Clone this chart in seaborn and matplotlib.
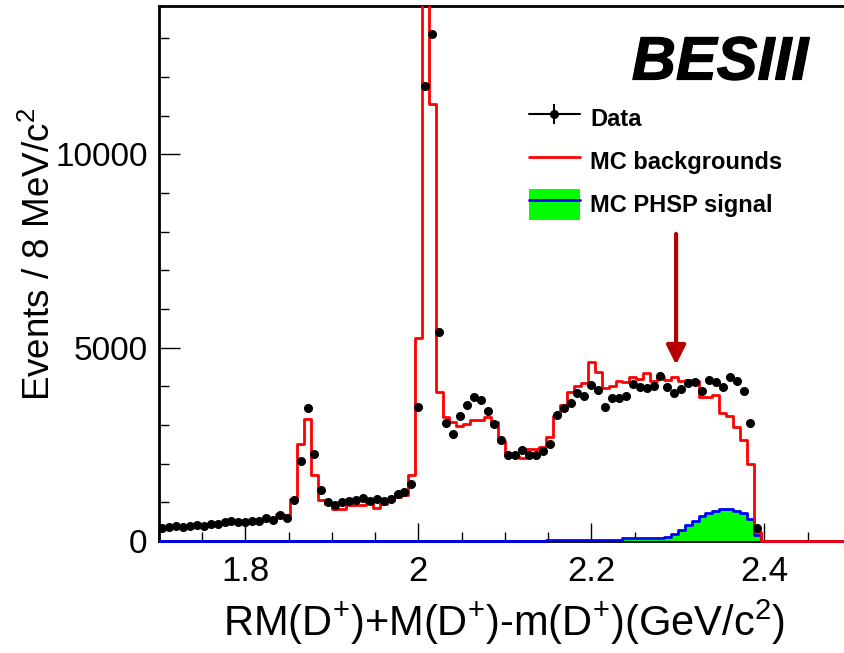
import numpy as np
import pandas as pd
import matplotlib
matplotlib.use("Agg")
import matplotlib.pyplot as plt
import matplotlib.patheffects as pe
import seaborn as sns
from matplotlib.lines import Line2D
from matplotlib.patches import Patch, Rectangle
from matplotlib.legend_handler import HandlerTuple
from matplotlib.ticker import MultipleLocator, FixedLocator

sns.set_theme(style="ticks")
plt.rcParams['font.family'] = ['Liberation Sans', 'DejaVu Sans']
plt.rcParams['mathtext.fontset'] = 'custom'
plt.rcParams['mathtext.rm'] = 'Liberation Sans'
plt.rcParams['mathtext.it'] = 'Liberation Sans:italic'
plt.rcParams['mathtext.bf'] = 'Liberation Sans:bold'
plt.rcParams['mathtext.default'] = 'regular'
for k in ['text.color', 'axes.labelcolor', 'xtick.color', 'ytick.color', 'axes.edgecolor']:
    plt.rcParams[k] = 'black'

# ---------------- data (8 MeV bins from 1.70 to 2.50 GeV) ----------------
x_lo = 1.7
bin_w = 0.008
n_bins = 100

data_counts = [343, 369, 386, 360, 395, 404, 386, 438, 455, 481,
               515, 481, 490, 515, 523, 585, 541, 678, 610, 1074,
               2062, 3440, 2242, 1332, 1010, 925, 1000, 1035, 1074, 1110,
               1040, 1078, 1035, 1100, 1211, 1280, 1465, 3461, 11770, 13110,
               5394, 3055, 2758, 3240, 3523, 3728, 3660, 3359, 3028, 2603,
               2216, 2216, 2367, 2229, 2238, 2320, 2500, 3265, 3436, 3565,
               3832, 3746, 4046, 3918, 3462, 3694, 3703, 3763, 4063, 3995,
               3961, 4003, 4278, 3995, 3832, 3935, 4089, 4106, 3874, 4175,
               4106, 3995, 4235, 4132, 3892, 3059, 343]

mc_backgrounds = [330, 360, 370, 375, 385, 395, 400, 420, 440, 455,
                  470, 475, 480, 495, 520, 545, 545, 713, 670, 1100,
                  2517, 3150, 1715, 1057, 960, 842, 842, 928, 928, 928,
                  1013, 868, 971, 1050, 1130, 1200, 1710, 5240, 16000, 11300,
                  3860, 3205, 3075, 2968, 3020, 3125, 3125, 3196, 3075, 2580,
                  2250, 2200, 2140, 2389, 2389, 2430, 2689, 3247, 3520, 3850,
                  4000, 4090, 4622, 4380, 3950, 4000, 4149, 4106, 4235, 4192,
                  4347, 4150, 4253, 4175, 4235, 4149, 4160, 4150, 3737, 3737,
                  3780, 3300, 3247, 2946, 2610, 1990, 225, 0, 0, 0,
                  0, 0, 0, 0, 0, 0, 0, 0, 0, 0]

mc_phsp_signal = [0] * 56 + [40] * 11 + [75] * 6 + [110, 190, 275, 412, 530,
                  653, 720, 778, 825, 825, 782, 720, 560, 150] + [0] * 13

edges = [x_lo + bin_w * i for i in range(n_bins + 1)]
centers = [e + bin_w / 2 for e in edges[:-1]]

df_mc = pd.DataFrame({"x": centers, "bkg": mc_backgrounds, "sig": mc_phsp_signal})
df_data = pd.DataFrame({"x": centers[:len(data_counts)], "n": data_counts})

# ---------------- figure ----------------
W, H = 844, 653
fig = plt.figure(figsize=(W / 100, H / 100), dpi=100)
ax_left, ax_right, ax_top, ax_bot = 158.8, 844.0, 6.2, 541.1
ax = fig.add_axes([ax_left / W, (H - ax_bot) / H, (ax_right - ax_left) / W, (ax_bot - ax_top) / H])

px_per_gev = 865.0
x_hi = x_lo + (ax_right - ax_left) / px_per_gev
y_hi = (ax_bot - ax_top) / 0.03868


def clip_slightly_below(artist):
    # let zero-level outlines show fully on top of the bottom frame line
    artist.set_clip_path(Rectangle((0, -0.02), 1, 1.02, transform=ax.transAxes))


# signal: green fill + blue outline
sns.histplot(data=df_mc, x="x", weights="sig", bins=edges, element="step", fill=True,
             color="#00ff00", alpha=1.0, linewidth=0, ax=ax, zorder=3)
n0 = len(ax.lines)
sns.histplot(data=df_mc, x="x", weights="sig", bins=edges, element="step", fill=False,
             color="#0000ff", linewidth=2.0, ax=ax, zorder=4)
# backgrounds: red outline
sns.histplot(data=df_mc, x="x", weights="bkg", bins=edges, element="step", fill=False,
             color="#ff0000", linewidth=2.0, ax=ax, zorder=4)
for ln in ax.lines[n0:]:
    clip_slightly_below(ln)

# data points with errors
ax.errorbar(df_data["x"], df_data["n"], yerr=np.sqrt(df_data["n"]), xerr=bin_w / 2,
            fmt="o", color="black", ms=5.5, elinewidth=1.3, capsize=0, zorder=6)

ax.set_xlim(x_lo, x_hi)
ax.set_ylim(0, y_hi)

# arrow
ax.annotate("", xy=(2.298, 4560), xytext=(2.298, 7940),
            arrowprops=dict(arrowstyle="-|>", color="#b50000", lw=3,
                            mutation_scale=29, shrinkA=0, shrinkB=0), zorder=7)

# ticks
ax.xaxis.set_major_locator(FixedLocator([1.8, 2.0, 2.2, 2.4]))
ax.set_xticklabels(["1.8", "2", "2.2", "2.4"])
ax.xaxis.set_minor_locator(MultipleLocator(0.05))
ax.yaxis.set_major_locator(FixedLocator([0, 5000, 10000]))
ax.yaxis.set_minor_locator(MultipleLocator(1000))
ax.tick_params(axis="x", which="major", direction="in", length=13, width=1.0,
               labelsize=25, pad=10, top=False)
ax.tick_params(axis="x", which="minor", direction="in", length=6.7, width=1.0, top=False)
ax.tick_params(axis="y", which="major", direction="in", length=14.9, width=1.0,
               labelsize=24, pad=8, right=False)
ax.tick_params(axis="y", which="minor", direction="in", length=7.4, width=1.0, right=False)

for side in ["left", "bottom", "top"]:
    ax.spines[side].set_linewidth(2)
    ax.spines[side].set_color("black")
ax.spines["right"].set_visible(False)

ax.set_xlabel("RM(D$^{+}$)+M(D$^{+}$)-m(D$^{+}$)(GeV/c$^{2}$)", fontsize=30)
ax.xaxis.set_label_coords(0.503, -0.105)
ax.set_ylabel("Events / 8 MeV/c$^{2}$", fontsize=26.5)
ax.yaxis.set_label_coords(-0.1477, 0.535)

# BESIII
ax.text(0.6903, 0.863, "BESIII", transform=ax.transAxes, fontsize=44,
        fontweight="bold", fontstyle="italic", ha="left", va="baseline", zorder=8,
        path_effects=[pe.withStroke(linewidth=0.9, foreground="black")])

# legend
data_handle = (Line2D([], [], color="black", lw=1.5),
               Line2D([], [], color="black", marker="|", ms=14, mew=1.5, ls="none"),
               Line2D([], [], color="black", marker="o", ms=5.5, ls="none"))
bkg_handle = Line2D([], [], color="#ff0000", lw=2)
sig_handle = (Patch(facecolor="#00ff00", edgecolor="none"),
              Line2D([], [], color="#0000ff", lw=2))
ax.legend([data_handle, bkg_handle, sig_handle],
          ["Data", "MC backgrounds", "MC PHSP signal"],
          handler_map={tuple: HandlerTuple(ndivide=1, pad=0)},
          loc="upper left", bbox_to_anchor=(0.5400, 0.8199), frameon=False,
          prop={"weight": "bold", "size": 17}, handlelength=2.15, handleheight=1.643,
          handletextpad=0.45, labelspacing=0.51, borderpad=0, borderaxespad=0)

fig.savefig("out.png", dpi=100)
